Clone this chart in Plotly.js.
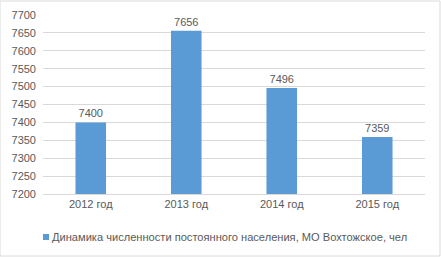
<!DOCTYPE html>
<html><head><meta charset="utf-8">
<script src="https://cdn.plot.ly/plotly-3.0.1.min.js"></script>
<style>html,body{margin:0;padding:0;background:#fff}#c{width:441px;height:257px}</style>
</head><body><div id="c"></div>
<script>
var categories = ["2012 год", "2013 год", "2014 год", "2015 год"];
var values = [7400, 7656, 7496, 7359];
var seriesName = "Динамика численности постоянного населения, МО Вохтожское, чел";
var tickVals = [7200, 7250, 7300, 7350, 7400, 7450, 7500, 7550, 7600, 7650, 7700];

var font = {family: "Liberation Sans, Arial, sans-serif", size: 11, color: "#595959"};
var barColor = "#5b9bd5";
Plotly.newPlot("c", [{
  type: "bar", x: categories, y: values, name: seriesName,
  marker: {color: barColor}, width: 0.32,
  text: values.map(String), textposition: "outside", cliponaxis: false,
  textfont: font, hoverinfo: "none"
}], {
  width: 441, height: 257,
  margin: {l: 43, r: 16, t: 15, b: 63},
  paper_bgcolor: "#fff", plot_bgcolor: "#fff",
  font: font,
  showlegend: false,
  xaxis: {showline: true, linecolor: "#d9d9d9", linewidth: 1, ticks: "", tickfont: font, fixedrange: true},
  yaxis: {range: [7200, 7700], tickvals: tickVals, showgrid: true, gridcolor: "#d9d9d9", zeroline: false, ticks: "", tickfont: font, ticklabelstandoff: 6, fixedrange: true},
  annotations: [{xref: "paper", yref: "paper", x: 7/382, y: -43/179, xanchor: "left", yanchor: "middle", text: seriesName, showarrow: false, font: {family: font.family, size: 11.1, color: font.color}}],
  shapes: [
    {type: "rect", xref: "paper", yref: "paper", x0: -43/382, x1: 1 + 15/382, y0: -62/179, y1: 1 + 14/179, line: {color: "#d9d9d9", width: 1}},
    {type: "rect", xref: "paper", yref: "paper", x0: 0, x1: 6/382, y0: -46/179, y1: -40/179, fillcolor: barColor, line: {width: 0}}
  ]
}, {staticPlot: true});
</script></body></html>
